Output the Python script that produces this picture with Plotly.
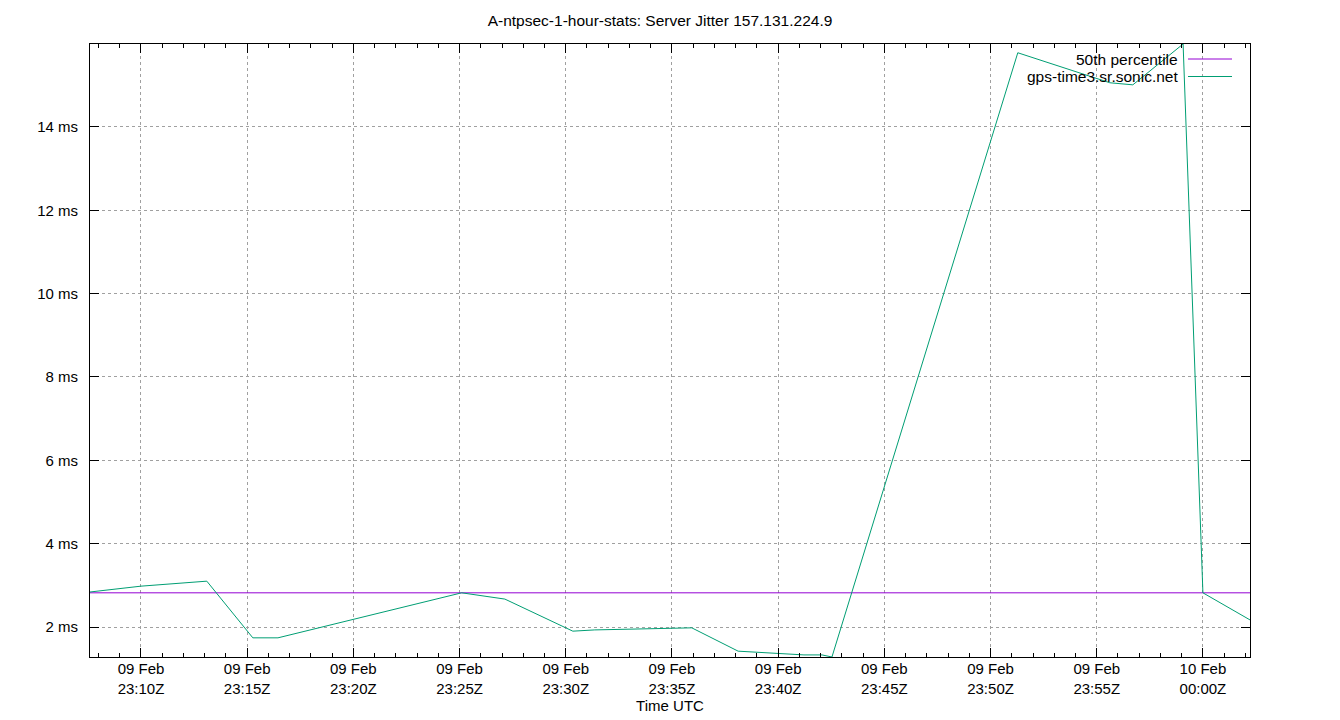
import plotly.graph_objects as go

# Sample times (UTC) and server jitter values (ms)
times = [
    "2024-02-09 23:07:36", "2024-02-09 23:10:00", "2024-02-09 23:13:06",
    "2024-02-09 23:15:16", "2024-02-09 23:16:27", "2024-02-09 23:25:06",
    "2024-02-09 23:27:08", "2024-02-09 23:30:20", "2024-02-09 23:31:22",
    "2024-02-09 23:33:10", "2024-02-09 23:35:00", "2024-02-09 23:35:56",
    "2024-02-09 23:38:07", "2024-02-09 23:39:28", "2024-02-09 23:41:13",
    "2024-02-09 23:42:04", "2024-02-09 23:42:32", "2024-02-09 23:51:17",
    "2024-02-09 23:55:37", "2024-02-09 23:56:42", "2024-02-09 23:59:04",
    "2024-02-10 00:00:00", "2024-02-10 00:02:13",
]
jitter_ms = [
    2.84, 2.98, 3.10,
    1.74, 1.74, 2.82,
    2.67, 1.90, 1.93,
    1.95, 1.98, 1.98,
    1.42, 1.38, 1.33,
    1.33, 1.28, 15.78,
    15.06, 15.01, 15.99,
    2.82, 2.17,
]
median_ms = 2.82

tick_times = [
    "2024-02-09 23:10", "2024-02-09 23:15", "2024-02-09 23:20",
    "2024-02-09 23:25", "2024-02-09 23:30", "2024-02-09 23:35",
    "2024-02-09 23:40", "2024-02-09 23:45", "2024-02-09 23:50",
    "2024-02-09 23:55", "2024-02-10 00:00",
]
tick_labels = [
    "09 Feb<br>23:10Z", "09 Feb<br>23:15Z", "09 Feb<br>23:20Z",
    "09 Feb<br>23:25Z", "09 Feb<br>23:30Z", "09 Feb<br>23:35Z",
    "09 Feb<br>23:40Z", "09 Feb<br>23:45Z", "09 Feb<br>23:50Z",
    "09 Feb<br>23:55Z", "10 Feb<br>00:00Z",
]
y_ticks = [2, 4, 6, 8, 10, 12, 14]
y_labels = ["2 ms", "4 ms", "6 ms", "8 ms", "10 ms", "12 ms", "14 ms"]

series_names = ["50th percentile", "gps-time3.sr.sonic.net"]
colors = ["#9400d3", "#009e73"]

FONT = "Liberation Sans, Arial, sans-serif"

fig = go.Figure()
fig.add_trace(go.Scatter(
    x=[times[0], times[-1]], y=[median_ms, median_ms], mode="lines",
    line=dict(color=colors[0], width=1), name=series_names[0], showlegend=False,
))
fig.add_trace(go.Scatter(
    x=times, y=jitter_ms, mode="lines",
    line=dict(color=colors[1], width=1), name=series_names[1], showlegend=False,
))

L, R, T, B = 90, 90, 44, 63
W, H = 1340, 720
pw, ph = W - L - R, H - T - B

def px_x(p):
    return (p - L) / pw

def px_y(p):
    return (H - B - p) / ph

# Legend (gnuplot style: right-aligned text, samples to the right)
row_y = [59, 76.5]
for yy, name, col in zip(row_y, series_names, colors):
    fig.add_annotation(
        x=px_x(1180), y=px_y(yy), xref="paper", yref="paper",
        text=name, showarrow=False, xanchor="right", yanchor="middle",
        font=dict(family=FONT, size=15.5, color="#000000"),
    )
    fig.add_shape(
        type="line", xref="paper", yref="paper",
        x0=px_x(1188), x1=px_x(1232), y0=px_y(yy), y1=px_y(yy),
        line=dict(color=col, width=1),
    )

fig.update_layout(
    width=W, height=H,
    margin=dict(l=L, r=R, t=T, b=B, autoexpand=False),
    paper_bgcolor="white", plot_bgcolor="white",
    font=dict(family=FONT, size=15, color="#000000"),
    title=dict(text="A-ntpsec-1-hour-stats: Server Jitter 157.131.224.9",
               x=660 / W, xref="container", xanchor="center",
               y=1 - 21 / H, yanchor="middle",
               font=dict(family=FONT, size=15.5)),
    xaxis=dict(
        type="date", range=[times[0], times[-1]],
        tickmode="array", tickvals=tick_times, ticktext=tick_labels,
        ticks="inside", ticklen=9, tickcolor="#000000", tickwidth=1,
        showline=True, linecolor="#000000", linewidth=1, mirror="allticks",
        showgrid=True, gridcolor="#a0a0a0", griddash="dot", gridwidth=1,
        zeroline=False, automargin=False, ticklabelstandoff=-2,
        minor=dict(dtick=60000, ticks="inside", ticklen=4, tickcolor="#000000",
                   showgrid=False),
        title=dict(text="Time UTC", font=dict(family=FONT, size=15), standoff=4),
        tickfont=dict(family=FONT, size=15),
    ),
    yaxis=dict(
        range=[1.28, 15.99],
        tickmode="array", tickvals=y_ticks, ticktext=y_labels,
        ticks="inside", ticklen=9, tickcolor="#000000", tickwidth=1,
        showline=True, linecolor="#000000", linewidth=1, mirror="allticks",
        showgrid=True, gridcolor="#a0a0a0", griddash="dot", gridwidth=1,
        zeroline=False, ticklabelstandoff=8, automargin=False,
        tickfont=dict(family=FONT, size=15),
    ),
)

fig.write_html("out.html", config={"displayModeBar": False},
               post_script="document.body.style.margin='0';document.body.style.overflow='hidden';")
